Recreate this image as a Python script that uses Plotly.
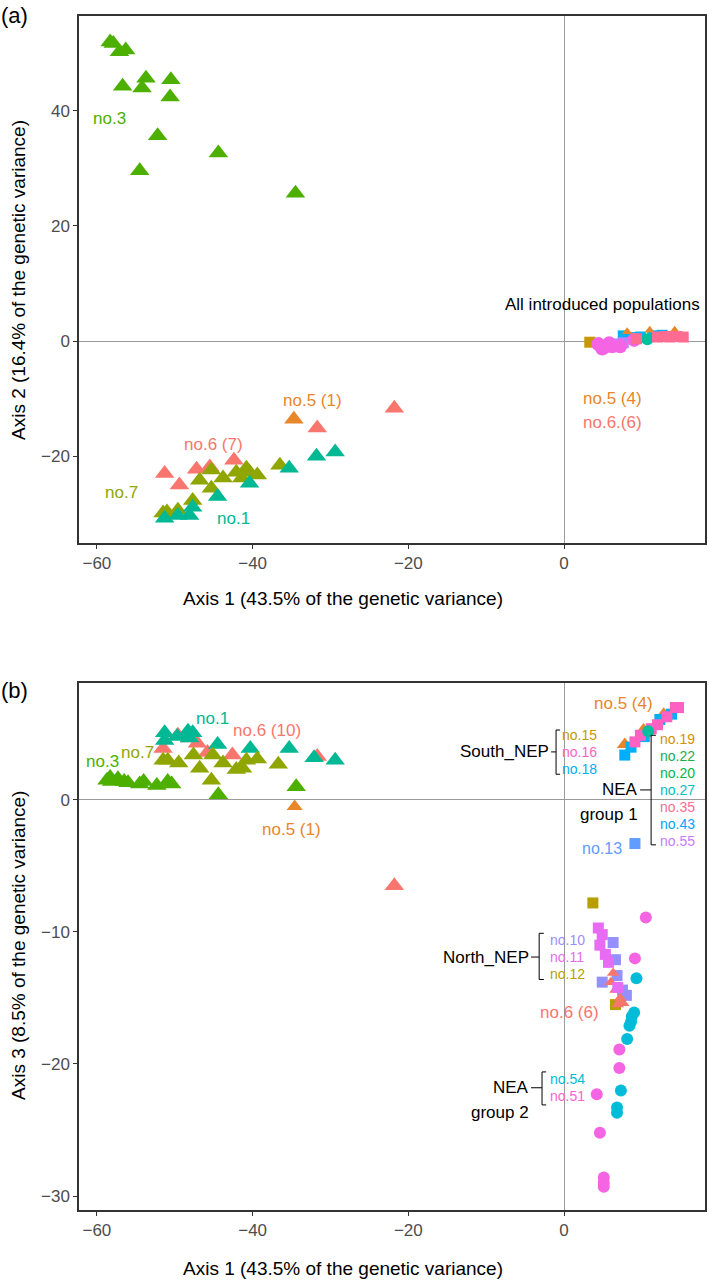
import plotly.graph_objects as go

# --- cores (paleta hue do ggplot) ---
C3 = '#4DAF00'
C7 = '#8FA600'
C1 = '#00B894'
C6 = '#F8766D'
C5 = '#E8862A'

# ================= painel (a): Axis 1 x Axis 2 =================
a_no3_x = [-58.3, -57.9, -57.1, -56.3, -56.7, -53.7, -54.2, -50.5, -50.6, -52.2, -44.4, -54.5, -34.5]
a_no3_y = [52.0, 51.7, 50.3, 50.6, 44.3, 45.7, 44.0, 45.4, 42.4, 35.7, 32.7, 29.6, 25.7]

a_no7_x = [-51.5, -51.0, -49.6, -47.7, -46.8, -45.3, -45.3, -43.8, -42.1, -41.4, -40.8, -40.4, -39.4, -36.5]
a_no7_y = [-29.9, -29.7, -29.4, -27.7, -24.2, -22.4, -25.6, -23.8, -22.8, -23.8, -22.1, -22.8, -23.3, -21.6]

a_no1_x = [-51.3, -49.6, -48.1, -47.7, -44.5, -40.4, -35.3, -31.8, -29.4]
a_no1_y = [-30.8, -30.3, -30.3, -28.9, -27.0, -24.7, -22.1, -20.0, -19.3]

a_no6_x = [-51.3, -49.4, -47.2, -45.5, -42.4, -31.7, -21.8]
a_no6_y = [-23.0, -25.0, -22.3, -21.9, -20.7, -15.1, -11.7]

a_no5_x = [-34.7, 8.1, 11.0, 14.2]
a_no5_y = [-13.6, 1.6, 1.9, 1.9]

# populações introduzidas (agrupadas)
a_gold_sq_x = [3.3]
a_gold_sq_y = [-0.2]
a_cyan_sq_x = [7.6, 8.6, 9.8, 11.4, 12.6]
a_cyan_sq_y = [0.9, 0.6, 0.7, 0.9, 1.0]
a_purple_sq_x = [7.6, 6.8]
a_purple_sq_y = [-0.3, -0.5]
a_pink_ci_x = [4.4, 5.3, 6.2, 7.2, 4.9, 5.8, 9.0]
a_pink_ci_y = [-0.5, -1.0, -0.9, -0.9, -1.3, -0.4, 0.2]
a_teal_ci_x = [10.7]
a_teal_ci_y = [0.3]
a_pink_sq_x = [9.3, 12.0, 13.0, 13.6, 14.5, 15.3]
a_pink_sq_y = [0.4, 0.7, 0.8, 0.7, 0.8, 0.7]

# ================= painel (b): Axis 1 x Axis 3 =================
b_no3_x = [-58.7, -58.3, -58.1, -57.3, -56.5, -56.0, -54.5, -54.0, -52.3, -50.9, -50.4, -44.4, -34.4]
b_no3_y = [1.5, 1.7, 1.4, 1.6, 1.4, 1.3, 1.2, 1.4, 1.1, 1.4, 1.2, 0.4, 1.0]

b_no7_x = [-51.5, -50.9, -49.5, -47.6, -46.8, -45.1, -43.8, -42.1, -41.3, -40.8, -39.4, -36.7, -45.3]
b_no7_y = [3.0, 3.0, 2.8, 3.4, 2.4, 3.4, 2.8, 2.3, 2.4, 3.0, 3.1, 2.7, 1.5]

b_no6_x = [-49.6, -51.5, -47.1, -45.8, -42.6, -31.7, -48.1, -21.8]
b_no6_y = [4.9, 3.9, 4.3, 3.6, 3.4, 3.3, 4.7, -6.5]

b_no1_x = [-51.3, -51.3, -49.7, -48.3, -47.7, -48.1, -44.5, -40.3, -35.3, -32.1, -29.4]
b_no1_y = [5.1, 4.5, 4.8, 5.2, 5.1, 4.7, 4.2, 3.9, 3.9, 3.2, 3.0]

b_no5_x = [-34.6, 7.8, 10.2, 12.8]
b_no5_y = [-0.5, 4.2, 5.3, 6.5]

# grupo superior direito (South_NEP + NEA group 1)
b_cyan_sq_x = [7.8, 8.6, 10.3, 12.3, 13.8]
b_cyan_sq_y = [3.4, 4.0, 4.8, 6.1, 6.5]
b_pink_sq_x = [9.1, 9.8, 11.2, 12.0, 13.2, 14.3, 14.7]
b_pink_sq_y = [4.4, 4.9, 5.4, 5.7, 6.3, 7.0, 7.0]
b_teal_ci_x = [10.8]
b_teal_ci_y = [5.2]
b_no13_x = [9.1]
b_no13_y = [-3.3]

# grupo inferior (North_NEP + NEA group 2)
b_no12_x = [3.7, 6.6]
b_no12_y = [-7.8, -15.5]
b_no11_x = [4.4, 4.9, 4.6, 5.3, 5.7, 6.9]
b_no11_y = [-9.7, -10.2, -11.0, -11.7, -12.3, -14.2]
b_no10_x = [6.3, 6.6, 4.9, 6.8, 7.5, 8.0]
b_no10_y = [-10.8, -12.1, -13.8, -13.3, -14.4, -14.8]
b_no6b_x = [6.3, 6.0, 7.6, 6.9, 6.6, 7.2]
b_no6b_y = [-13.1, -13.8, -15.4, -15.5, -14.4, -15.0]
b_no54_x = [9.3, 9.0, 8.7, 8.6, 8.4, 8.1, 7.3, 6.8, 6.8]
b_no54_y = [-13.5, -16.1, -16.4, -16.8, -17.1, -18.1, -22.0, -23.3, -23.7]
b_no51_x = [10.5, 9.1, 7.1, 7.1, 4.2, 4.6, 5.1, 5.1, 5.1]
b_no51_y = [-8.9, -12.0, -18.9, -20.3, -22.3, -25.2, -28.6, -29.0, -29.3]

FONT = 'Liberation Sans Narrow, Arial Narrow, Liberation Sans, sans-serif'
TRI, SQ, CI = 17, 11, 12
STEP = 1.288  # 17 px no painel (b)

fig = go.Figure()


def pts(x, y, color, symbol, size, xa='x', ya='y'):
    fig.add_trace(go.Scatter(
        x=x, y=y, mode='markers', xaxis=xa, yaxis=ya, showlegend=False,
        marker=dict(color=color, symbol=symbol, size=size, line=dict(width=0)),
        hoverinfo='skip'
    ))


# painel (a)
pts(a_gold_sq_x, a_gold_sq_y, '#C49A00', 'square', SQ)
pts(a_cyan_sq_x, a_cyan_sq_y, '#00B0F6', 'square', SQ)
pts(a_no5_x[1:], a_no5_y[1:], C5, 'triangle-up', 9)
pts(a_purple_sq_x, a_purple_sq_y, '#B983FF', 'square', SQ)
pts(a_pink_ci_x, a_pink_ci_y, '#F564E3', 'circle', 14)
pts(a_teal_ci_x, a_teal_ci_y, '#00BFA0', 'circle', CI)
pts(a_pink_sq_x, a_pink_sq_y, '#FF6C91', 'square', SQ)
pts(a_no3_x, a_no3_y, C3, 'triangle-up', TRI)
pts(a_no6_x, a_no6_y, C6, 'triangle-up', TRI)
pts(a_no7_x, a_no7_y, C7, 'triangle-up', TRI)
pts(a_no1_x, a_no1_y, C1, 'triangle-up', TRI)
pts(a_no5_x[:1], a_no5_y[:1], C5, 'triangle-up', TRI)

# painel (b)
pts(b_no6_x, b_no6_y, C6, 'triangle-up', TRI, 'x2', 'y2')
pts(b_no1_x, b_no1_y, C1, 'triangle-up', TRI, 'x2', 'y2')
pts(b_no7_x, b_no7_y, C7, 'triangle-up', TRI, 'x2', 'y2')
pts(b_no3_x, b_no3_y, C3, 'triangle-up', TRI, 'x2', 'y2')
pts(b_no5_x, b_no5_y, C5, 'triangle-up', 14, 'x2', 'y2')
pts(b_cyan_sq_x, b_cyan_sq_y, '#00B0F6', 'square', SQ, 'x2', 'y2')
pts(b_pink_sq_x, b_pink_sq_y, '#FF61C3', 'square', SQ, 'x2', 'y2')
pts(b_teal_ci_x, b_teal_ci_y, '#00BFA0', 'circle', CI, 'x2', 'y2')
pts(b_no13_x, b_no13_y, '#619CFF', 'square', SQ, 'x2', 'y2')
pts(b_no12_x, b_no12_y, '#B79F00', 'square', SQ, 'x2', 'y2')
pts(b_no54_x, b_no54_y, '#00BCD8', 'circle', CI, 'x2', 'y2')
pts(b_no51_x, b_no51_y, '#F564E3', 'circle', CI, 'x2', 'y2')
pts(b_no10_x, b_no10_y, '#9590FF', 'square', SQ, 'x2', 'y2')
pts(b_no6b_x, b_no6b_y, C6, 'triangle-up', 11, 'x2', 'y2')
pts(b_no11_x, b_no11_y, '#E76BF3', 'square', SQ, 'x2', 'y2')

# --- textos ---
ann = []


def txt(x, y, s, color, size=17, xa='x', ya='y', anchor='center'):
    ann.append(dict(x=x, y=y, xref=xa, yref=ya, text=s, showarrow=False,
                    xanchor=anchor, yanchor='middle',
                    font=dict(family=FONT, size=size, color=color)))


txt(-58.4, 38.6, 'no.3', C3)
txt(4.9, 6.3, 'All introduced populations', 'black', 17)
txt(6.2, -9.9, 'no.5 (4)', C5)
txt(6.2, -14.1, 'no.6.(6)', C6)
txt(-32.3, -10.4, 'no.5 (1)', C5)
txt(-45.0, -17.9, 'no.6 (7)', C6)
txt(-56.8, -26.4, 'no.7', C7)
txt(-42.5, -30.8, 'no.1', C1)

B = dict(xa='x2', ya='y2')
txt(-59.3, 2.9, 'no.3', C3, **B)
txt(-54.8, 3.6, 'no.7', C7, **B)
txt(-45.2, 6.2, 'no.1', C1, **B)
txt(-38.2, 5.3, 'no.6 (10)', C6, **B)
txt(-35.0, -2.2, 'no.5 (1)', C5, **B)
txt(7.6, 7.3, 'no.5 (4)', C5, **B)
txt(0.64, -16.1, 'no.6 (6)', C6, **B)
txt(7.7, -3.64, 'no.13', '#619CFF', 16, anchor='right', **B)

txt(-1.7, 3.64, 'South_NEP', 'black', 17, anchor='right', **B)
south = [('no.15', '#C49A00'), ('no.16', '#FF61C3'), ('no.18', '#00B0F6')]
for i, (s, c) in enumerate(south):
    txt(-0.55, 4.92 - i * STEP, s, c, 14, anchor='left', **B)

txt(9.7, 0.76, 'NEA', 'black', 17, anchor='right', **B)
txt(9.7, -1.1, 'group 1', 'black', 17, anchor='right', **B)
nea1 = [('no.19', '#D39200'), ('no.22', '#1AAF4A'), ('no.20', '#00B94A'), ('no.27', '#00BFC4'),
        ('no.35', '#FF6C91'), ('no.43', '#00A5FF'), ('no.55', '#C77CFF')]
for i, (s, c) in enumerate(nea1):
    txt(12.0, 4.62 - i * STEP, s, c, 14, anchor='left', **B)

txt(-4.3, -11.9, 'North_NEP', 'black', 17, anchor='right', **B)
north = [('no.10', '#9590FF'), ('no.11', '#E76BF3'), ('no.12', '#B79F00')]
for i, (s, c) in enumerate(north):
    txt(-2.1, -10.6 - i * STEP, s, c, 14, anchor='left', **B)

txt(-4.3, -21.8, 'NEA', 'black', 17, anchor='right', **B)
txt(-4.3, -23.7, 'group 2', 'black', 17, anchor='right', **B)
txt(-2.1, -21.14, 'no.54', '#00BCD8', 14, anchor='left', **B)
txt(-2.1, -21.14 - STEP, 'no.51', '#FD61D1', 14, anchor='left', **B)

# rótulos dos painéis e títulos dos eixos
for s, y in [('(a)', 1 - 15 / 1284), ('(b)', 1 - 690 / 1284)]:
    ann.append(dict(x=15 / 709, y=y, xref='paper', yref='paper', text=s, showarrow=False,
                    xanchor='center', yanchor='middle', font=dict(family=FONT, size=22, color='black')))
for y in [1 - 598 / 1284, 1 - 1268 / 1284]:
    ann.append(dict(x=343 / 709, y=y, xref='paper', yref='paper', showarrow=False,
                    text='Axis 1 (43.5% of the genetic variance)', xanchor='center', yanchor='middle',
                    font=dict(family=FONT, size=19, color='black')))
for s, y in [('Axis 2 (16.4% of the genetic variance)', 1 - 280 / 1284),
             ('Axis 3 (8.5% of the genetic variance)', 1 - 946 / 1284)]:
    ann.append(dict(x=18 / 709, y=y, xref='paper', yref='paper', text=s, showarrow=False, textangle=-90,
                    xanchor='center', yanchor='middle', font=dict(family=FONT, size=19, color='black')))

# colchetes
shapes = []


def seg(x0, y0, x1, y1):
    shapes.append(dict(type='line', xref='x2', yref='y2', x0=x0, y0=y0, x1=x1, y1=y1,
                       line=dict(color='black', width=1)))


def bracket(xv, ytop, ybot, ymid, xleft, xtick):
    seg(xv, ytop, xv, ybot)
    seg(xv, ytop, xtick, ytop)
    seg(xv, ybot, xtick, ybot)
    seg(xleft, ymid, xv, ymid)


bracket(-1.03, 5.3, 1.95, 3.64, -1.67, -0.51)
bracket(11.18, 4.9, -3.4, 0.76, 9.77, 11.8)
bracket(-3.2, -10.1, -13.6, -11.9, -4.24, -2.6)
bracket(-2.83, -20.6, -23.1, -21.8, -4.24, -2.3)

axis_common = dict(showgrid=False, zeroline=True, zerolinecolor='#9A9A9A', zerolinewidth=1,
                   showline=True, mirror=True, linecolor='#333333', linewidth=1.5,
                   ticks='outside', ticklen=4, tickcolor='#333333',
                   tickfont=dict(family=FONT, size=17, color='#4D4D4D'))
xdom = [79 / 709, 705 / 709]

fig.update_layout(
    width=709, height=1284,
    margin=dict(l=0, r=0, t=0, b=0),
    plot_bgcolor='white', paper_bgcolor='white',
    xaxis=dict(domain=xdom, range=[-62.3, 18.1], tickvals=[-60, -40, -20, 0], anchor='y', **axis_common),
    yaxis=dict(domain=[1 - 543 / 1284, 1 - 16 / 1284], range=[-35.1, 56.5], tickvals=[-20, 0, 20, 40],
               anchor='x', **axis_common),
    xaxis2=dict(domain=xdom, range=[-62.3, 18.1], tickvals=[-60, -40, -20, 0], anchor='y2', **axis_common),
    yaxis2=dict(domain=[1 - 1210 / 1284, 1 - 683 / 1284], range=[-31.06, 8.86], tickvals=[-30, -20, -10, 0],
                anchor='x2', **axis_common),
    annotations=ann,
    shapes=shapes,
)

fig.write_html("out.html", config={'displayModeBar': False},
               post_script="document.body.style.margin='0';")
